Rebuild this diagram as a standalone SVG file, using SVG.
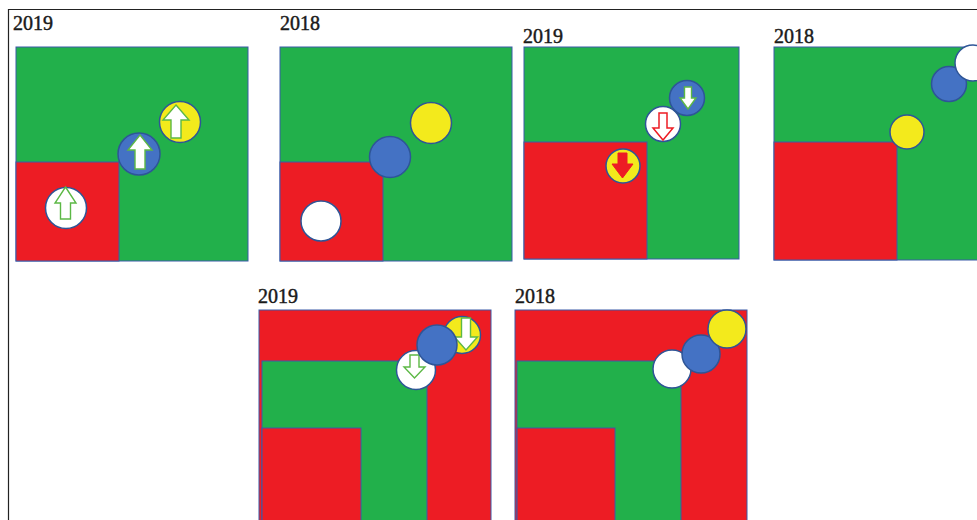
<svg xmlns="http://www.w3.org/2000/svg" width="977" height="520" viewBox="0 0 977 520">
<style>
.lbl{font-family:"Liberation Serif","Times New Roman",serif;font-size:20px;fill:#1a1a1a;stroke:#1a1a1a;stroke-width:0.45}
.g{fill:#22b04b;stroke:#3a5aa8;stroke-width:1}
.r{fill:#ed1c24;stroke:#3a5aa8;stroke-width:1}
.c{stroke:#2e5597;stroke-width:1.5}
.cy{fill:#f3ea1c}
.cb{fill:#4472c4}
.cw{fill:#ffffff}
.aw{fill:#ffffff;stroke:#5cb845;stroke-width:1.4}
.ar{fill:#ffffff;stroke:#ed1c24;stroke-width:1.5}
.af{fill:#ed1c24;stroke:#ed1c24;stroke-width:1}
</style>
<rect width="977" height="520" fill="#ffffff"/>
<path d="M8.5,520 V9.5 H977" fill="none" stroke="#222" stroke-width="1.2"/>

<g id="panel1">
<text class="lbl" x="13" y="30">2019</text>
<rect class="g" x="16" y="47" width="232" height="214"/>
<rect class="r" x="16" y="162" width="103" height="99"/>
<circle class="c cw" cx="66" cy="208" r="20.5"/>
<polygon class="aw" points="65.5,187 76,203 70.5,203 70.5,219 60.5,219 60.5,203 55,203"/>
<circle class="c cb" cx="139" cy="154" r="21"/>
<polygon class="aw" points="140,135 152,150 145,150 145,169 135,169 135,150 128,150"/>
<circle class="c cy" cx="180" cy="122" r="20.5"/>
<polygon class="aw" points="176,105 189,120 181,120 181,138 171,138 171,120 163,120"/>
</g>

<g id="panel2">
<text class="lbl" x="280" y="30">2018</text>
<rect class="g" x="280" y="47" width="232" height="214"/>
<rect class="r" x="280" y="162" width="103" height="99"/>
<circle class="c cw" cx="321" cy="221" r="20"/>
<circle class="c cb" cx="390" cy="157" r="20.5"/>
<circle class="c cy" cx="431" cy="123" r="20.5"/>
</g>

<g id="panel3">
<text class="lbl" x="523" y="43">2019</text>
<rect class="g" x="524" y="47" width="215" height="212"/>
<rect class="r" x="524" y="142" width="123" height="117"/>
<circle class="c cy" cx="623" cy="166" r="17"/>
<polygon class="af" points="618,153 627,153 627,164 633,164 622.5,178 612,164 618,164"/>
<circle class="c cw" cx="663" cy="124" r="17.5"/>
<polygon class="ar" points="659,113 667,113 667,128 673,128 663,140 653,128 659,128"/>
<circle class="c cb" cx="687" cy="98" r="17.5"/>
<polygon class="aw" points="684.5,87 691.5,87 691.5,98 696,98 688,109 680,98 684.5,98"/>
</g>

<g id="panel4">
<text class="lbl" x="774" y="43">2018</text>
<rect class="g" x="774" y="47" width="210" height="213"/>
<rect class="r" x="774" y="142" width="123" height="118"/>
<circle class="c cy" cx="907" cy="132" r="17"/>
<circle class="c cb" cx="949" cy="84" r="17.5"/>
<circle class="c cw" cx="973" cy="63" r="18"/>
</g>

<g id="panel5">
<text class="lbl" x="258" y="303">2019</text>
<rect class="r" x="259" y="310" width="232" height="215"/>
<rect class="g" x="262" y="361" width="165" height="164"/>
<rect class="r" x="262" y="428" width="99" height="97"/>
<circle class="c cy" cx="462" cy="335" r="18.5"/>
<polygon class="aw" points="461.5,318 470.5,318 470.5,337 477.5,337 466,350 454.5,337 461.5,337"/>
<circle class="c cw" cx="416" cy="370" r="19.5"/>
<polygon class="aw" points="410,355 419,355 419,367 425,367 414.5,378 404,367 410,367"/>
<circle class="c cb" cx="437" cy="345" r="20"/>
</g>

<g id="panel6">
<text class="lbl" x="515" y="303">2018</text>
<rect class="r" x="515" y="310" width="232" height="215"/>
<rect class="g" x="517" y="361" width="164" height="164"/>
<rect class="r" x="517" y="428" width="98" height="97"/>
<circle class="c cw" cx="672" cy="369" r="19"/>
<circle class="c cb" cx="701" cy="354" r="19"/>
<circle class="c cy" cx="727" cy="329" r="19"/>
</g>

<g id="connectors"></g>
</svg>
